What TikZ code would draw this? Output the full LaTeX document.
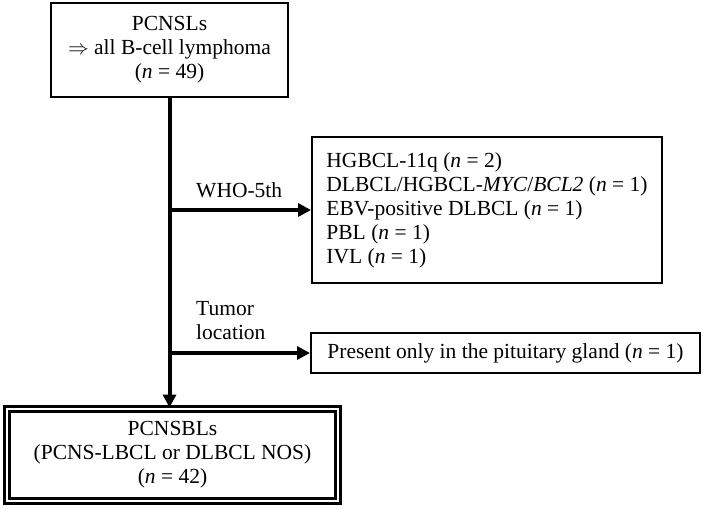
\documentclass[tikz,border=0pt]{standalone}
\usepackage{fontspec}
\setmainfont{Liberation Serif}
\usetikzlibrary{arrows.meta}
\begin{document}
\begin{tikzpicture}[
x=1pt,y=-1pt,
font=\fontsize{21.5}{24}\selectfont,
box/.style={rectangle,draw=black,line width=2pt,inner sep=0pt,align=center},
listbox/.style={rectangle,draw=black,line width=2pt,inner sep=0pt,align=left},
finalbox/.style={rectangle,draw=black,line width=3pt,double=white,double distance=2pt,inner sep=0pt,align=center},
flow/.style={line width=4pt,-{Triangle[length=13pt,width=13pt]}}
]

\useasboundingbox (0,0) rectangle (703,508);

% Draw boxes
\node [box,minimum width=237pt,minimum height=94pt] (pcnsl) at (169.5,50)
  {PCNSLs\\$\Rightarrow$ all B-cell lymphoma\\(\textit{n} = 49)};
\node [listbox,minimum width=350pt,minimum height=146pt] (whobox) at (487,210)
  {HGBCL-11q (\textit{n} = 2)\\DLBCL/HGBCL-\textit{MYC}/\textit{BCL2} (\textit{n} = 1)\\EBV-positive DLBCL (\textit{n} = 1)\\PBL (\textit{n} = 1)\\IVL (\textit{n} = 1)};
\node [box,minimum width=389pt,minimum height=40pt] (pitbox) at (505.5,353)
  {Present only in the pituitary gland (\textit{n} = 1)};
\node [finalbox,minimum width=331pt,minimum height=92pt] (pcnsbl) at (172.5,455)
  {PCNSBLs\\(PCNS-LBCL or DLBCL NOS)\\(\textit{n} = 42)};

% Draw arrows
\draw [flow] (pcnsl.south) -- (pcnsl.south |- pcnsbl.north);
\draw [flow] (pcnsl.south |- whobox.west) -- (whobox.west);
\draw [flow] (pcnsl.south |- pitbox.west) -- (pitbox.west);

% Labels
\node [anchor=west,inner sep=0pt] (wholabel) at (196,190) {WHO-5th};
\node [anchor=west,inner sep=0pt,align=left] (tumorlabel) at (196,321) {Tumor\\location};

\end{tikzpicture}
\end{document}
